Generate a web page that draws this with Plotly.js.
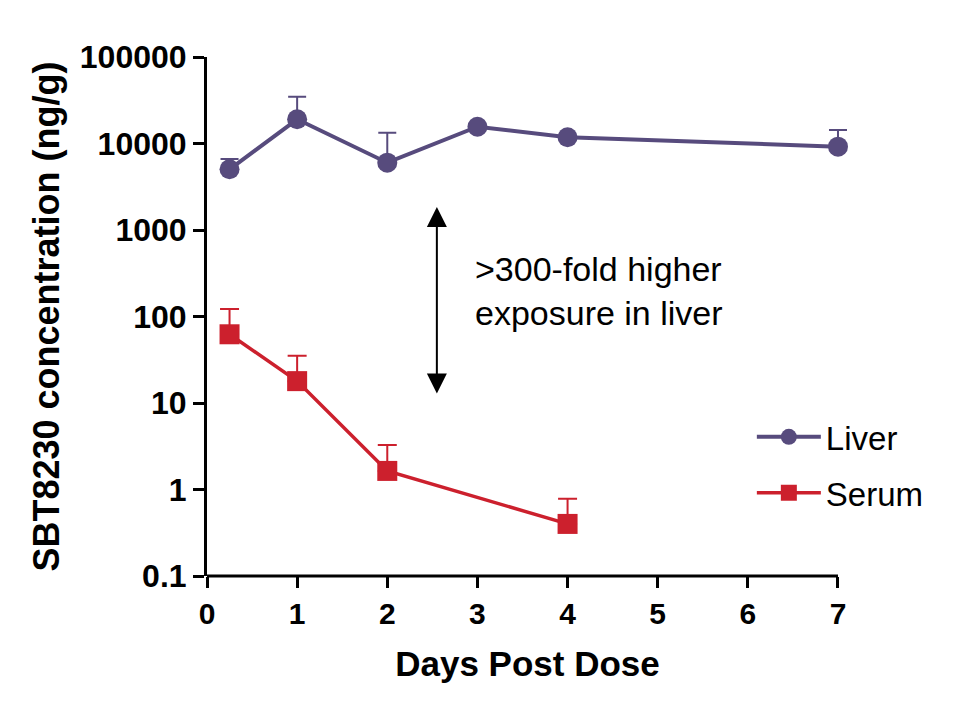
<!DOCTYPE html>
<html>
<head>
<meta charset="utf-8">
<script src="https://cdn.plot.ly/plotly-3.0.1.min.js"></script>
<style>html,body{margin:0;padding:0;background:#fff;}#chart{width:958px;height:715px;}</style>
</head>
<body>
<div id="chart"></div>
<script>
// Data
const liverDays = [0.25, 1, 2, 3, 4, 7];
const liverConc = [5035, 19050, 6000, 15640, 11800, 9190];
const liverErrPlus = [1585, 15710, 7330, 0, 0, 5130];

const serumDays = [0.25, 1, 2, 4];
const serumConc = [62.3, 17.9, 1.64, 0.40];
const serumErrPlus = [59.7, 17.3, 1.63, 0.38];

const xTickVals = [0, 1, 2, 3, 4, 5, 6, 7];
const yTickVals = [0.1, 1, 10, 100, 1000, 10000, 100000];
const yTickText = ['0.1', '1', '10', '100', '1000', '10000', '100000'];

const liverColor = '#574b7d';
const serumColor = '#cc202d';
const FONT = 'Arial, "Liberation Sans", sans-serif';

const traces = [
  {
    name: 'Liver', x: liverDays, y: liverConc, type: 'scatter', mode: 'lines+markers',
    legendgroup: 'a',
    line: {color: liverColor, width: 4},
    marker: {symbol: 'circle', size: 20, color: liverColor},
    error_y: {type: 'data', symmetric: false, array: liverErrPlus,
      arrayminus: liverErrPlus.map(() => 0), color: liverColor, thickness: 2, width: 9},
    cliponaxis: false
  },
  {
    name: 'Serum', x: serumDays, y: serumConc, type: 'scatter', mode: 'lines+markers',
    legendgroup: 'b',
    line: {color: serumColor, width: 3.5},
    marker: {symbol: 'square', size: 20, color: serumColor},
    error_y: {type: 'data', symmetric: false, array: serumErrPlus,
      arrayminus: serumErrPlus.map(() => 0), color: serumColor, thickness: 2, width: 9.5},
    cliponaxis: false
  }
];

const xMax = xTickVals[xTickVals.length - 1];

const layout = {
  width: 958, height: 715,
  margin: {l: 207, r: 110, t: 57, b: 139},
  paper_bgcolor: '#fff', plot_bgcolor: '#fff',
  font: {family: FONT, color: '#000'},
  showlegend: true,
  legend: {
    x: 0.85, xanchor: 'left', y: 0.322, yanchor: 'top',
    font: {family: FONT, size: 33, color: '#000'},
    traceorder: 'grouped', tracegroupgap: 10, itemwidth: 64,
    bgcolor: 'rgba(0,0,0,0)'
  },
  xaxis: {
    range: [0, 7.111], tickvals: xTickVals, showgrid: false, zeroline: false,
    showline: false,
    ticks: 'outside', ticklen: 11, tickwidth: 3, tickcolor: '#000',
    tickfont: {family: FONT, size: 30, color: '#000', weight: 'bold'},
    title: {text: 'Days Post Dose', font: {family: FONT, size: 35, color: '#000', weight: 'bold'}, standoff: 22}
  },
  yaxis: {
    type: 'log', range: [-1, 5], tickvals: yTickVals, ticktext: yTickText,
    showgrid: false, zeroline: false,
    showline: true, linecolor: '#000', linewidth: 3,
    ticks: 'outside', ticklen: 11, tickwidth: 3, tickcolor: '#000',
    tickfont: {family: FONT, size: 32, color: '#000', weight: 'bold'},
    title: {text: 'SBT8230 concentration (ng/g)', font: {family: FONT, size: 36, color: '#000', weight: 'bold'}, standoff: 10}
  },
  shapes: [
    {type: 'line', xref: 'x', yref: 'paper', x0: 0, x1: xMax, y0: 0, y1: 0,
     line: {color: '#000', width: 3}}
  ],
  annotations: [
    {
      xref: 'x', yref: 'y', x: 2.55, y: Math.log10(1845),
      ax: 0, ay: 188, text: '', showarrow: true,
      arrowside: 'end+start', arrowhead: 2, arrowsize: 2, arrowwidth: 2, arrowcolor: '#000',
      startarrowhead: 2, startarrowsize: 2
    },
    {
      xref: 'x', yref: 'y', x: 4.35, y: 2.30, showarrow: false,
      text: '>300-fold higher<br>exposure in liver', align: 'left',
      font: {family: FONT, size: 34, color: '#000'}
    }
  ]
};

Plotly.newPlot('chart', traces, layout, {displayModeBar: false, staticPlot: true});
</script>
</body>
</html>
